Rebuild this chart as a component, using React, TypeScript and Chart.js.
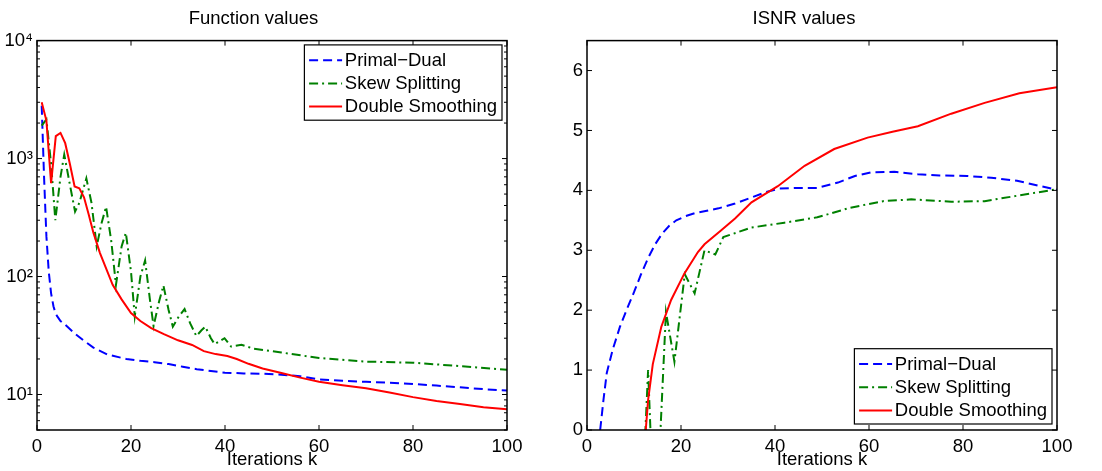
import React, { useEffect, useRef } from 'react';
import { Chart, registerables } from 'chart.js';
Chart.register(...registerables);

const FONT = '"Liberation Sans", Arial, Helvetica, sans-serif';
const FS = 18.5;

// ---------- Left panel: Function values (log scale) ----------
const pdIterF = [1, 1.5, 2, 2.5, 3, 3.5, 4, 5, 6, 8, 10, 12, 15, 19, 22, 25, 28, 31, 34, 37, 40, 44, 48, 52, 56, 60, 65, 70, 75, 80, 85, 90, 95, 100];
const pdValF = [2800, 700, 220, 110, 72, 56, 48, 42, 39, 33, 28.5, 25, 21.8, 20, 19.3, 18.8, 18.1, 17.2, 16.4, 15.8, 15.3, 15.1, 15.0, 14.7, 14.3, 13.4, 13.1, 12.8, 12.6, 12.3, 11.9, 11.5, 11.1, 10.8];

const ssIterF = [1, 2, 3, 3.9, 5, 5.8, 7, 8.1, 9, 10.5, 11.6, 12.7, 13.7, 14.7, 15.8, 16.8, 18, 18.9, 20, 20.8, 22, 23, 24, 24.8, 26, 26.9, 28, 28.9, 30.2, 31.4, 32.6, 33.9, 35, 35.8, 37, 37.8, 39.9, 41.3, 43.5, 46, 52, 60, 70, 80, 90, 100];
const ssValF = [1900, 2150, 900, 300, 700, 1080, 600, 355, 420, 680, 420, 180, 280, 390, 200, 85, 180, 235, 110, 46, 100, 137, 65, 38, 62, 84, 52, 37.6, 46, 53, 40, 31.3, 35, 37.6, 30, 26.7, 30, 25.5, 26.4, 24.5, 22.7, 20.4, 19, 18.6, 17.4, 16.2];

const dsIterF = [1, 2, 3, 4, 5, 6, 7, 8, 9, 10, 11, 12, 13.4, 16.1, 18, 20, 22, 24.3, 27, 30, 33, 35.5, 38, 40.5, 42.5, 45, 48, 52, 56, 60, 65, 70, 75, 80, 85, 90, 95, 100];
const dsValF = [3000, 2100, 620, 1550, 1650, 1350, 900, 580, 560, 470, 335, 235, 158, 85, 64, 49, 42, 36.5, 32.5, 28.8, 26.3, 23.3, 22, 21.2, 20, 18.2, 16.6, 15.2, 13.9, 12.8, 12.0, 11.3, 10.4, 9.5, 8.8, 8.3, 7.8, 7.5];

const fMin = 5;
const fMax = 10000;
const fTickValues = [10, 100, 1000, 10000];
const fTickLabels = ['10¹', '10²', '10³', '10⁴'];

// ---------- Right panel: ISNR values ----------
const pdIterI = [2.8, 3.5, 4.2, 5.5, 7, 8.5, 10, 11.5, 13, 14.5, 16, 17.5, 19, 21, 23, 25.5, 28, 31.5, 35, 38, 41, 45, 49, 53.4, 57, 60.4, 65.4, 70.4, 75, 80.9, 86, 91.5, 96, 100];
const pdValI = [0, 0.5, 0.95, 1.35, 1.72, 2.02, 2.3, 2.6, 2.87, 3.1, 3.28, 3.41, 3.5, 3.57, 3.62, 3.66, 3.7, 3.78, 3.88, 3.97, 4.03, 4.04, 4.04, 4.13, 4.24, 4.3, 4.31, 4.27, 4.25, 4.24, 4.21, 4.16, 4.08, 4.01];

const ssIterI = [12.2, 13, 13.7, 15.4, 16.8, 18.6, 20.8, 22.9, 25, 27.3, 29, 32, 35, 42, 49, 56, 63, 69, 77.5, 84.6, 91.5, 100];
const ssValI = [-0.4, 1.0, -0.4, -0.4, 1.97, 1.14, 2.6, 2.28, 3.0, 2.93, 3.22, 3.3, 3.38, 3.46, 3.55, 3.71, 3.82, 3.85, 3.81, 3.82, 3.91, 4.02];

const dsIterI = [12.5, 13, 14, 15.8, 17.9, 20.7, 23.6, 25, 28.5, 31.5, 35, 40.6, 46.3, 52.6, 59.7, 65, 70.4, 77.5, 84.6, 92, 100];
const dsValI = [0, 0.5, 1.1, 1.72, 2.17, 2.61, 2.97, 3.1, 3.33, 3.53, 3.8, 4.07, 4.41, 4.69, 4.88, 4.98, 5.07, 5.28, 5.46, 5.62, 5.72];

const isnrMin = 0;
const isnrMax = 6.5;
const isnrTickValues = [0, 1, 2, 3, 4, 5, 6];

// ---------- shared ----------
const xTickValues = [0, 20, 40, 60, 80, 100];
const seriesNames = ['Primal\u2212Dual', 'Skew Splitting', 'Double Smoothing'];

const seriesStyle = [
  { color: '#0000ff', dash: [9, 5], order: 3 },
  { color: '#008000', dash: [9, 4, 2, 4], order: 2 },
  { color: '#ff0000', dash: [], order: 1 },
];

function pts(xs: number[], ys: number[]) {
  return xs.map((x, i) => ({ x, y: ys[i] }));
}

function makeDatasets(series: { xs: number[]; ys: number[] }[]) {
  return series.map((s, i) => ({
    label: seriesNames[i],
    data: pts(s.xs, s.ys),
    borderColor: seriesStyle[i].color,
    backgroundColor: seriesStyle[i].color,
    borderDash: seriesStyle[i].dash,
    borderWidth: 2,
    pointRadius: 0,
    tension: 0,
    fill: false,
    clip: 0,
    order: seriesStyle[i].order,
  }));
}

const frameTicks = {
  id: 'frameTicks',
  afterDatasetsDraw(chart: any) {
    const { ctx, chartArea: a, scales } = chart;
    const xs = scales.x;
    const ys = scales.y;
    ctx.save();
    ctx.setLineDash([]);
    ctx.strokeStyle = '#000';
    ctx.lineWidth = 1;
    ctx.beginPath();
    xs.ticks.forEach((t: any) => {
      const px = xs.getPixelForValue(t.value);
      ctx.moveTo(px, a.bottom);
      ctx.lineTo(px, a.bottom - 5);
      ctx.moveTo(px, a.top);
      ctx.lineTo(px, a.top + 5);
    });
    ys.ticks.forEach((t: any) => {
      const py = ys.getPixelForValue(t.value);
      const len = t.label ? 5 : 3;
      ctx.moveTo(a.left, py);
      ctx.lineTo(a.left + len, py);
      ctx.moveTo(a.right, py);
      ctx.lineTo(a.right - len, py);
    });
    ctx.stroke();
    ctx.lineWidth = 1.5;
    ctx.strokeRect(a.left, a.top, a.right - a.left, a.bottom - a.top);
    ctx.restore();
  },
};

const boxLegend = {
  id: 'boxLegend',
  afterDraw(chart: any, _args: any, opts: any) {
    const { ctx, chartArea: a } = chart;
    const ds = chart.data.datasets;
    ctx.save();
    ctx.font = `${FS}px ${FONT}`;
    const textW = Math.max(...ds.map((d: any) => ctx.measureText(d.label).width));
    const lineLen = 33;
    const rowH = 23.2;
    const w = 4.7 + lineLen + 2.7 + textW + 5;
    const h = 75.3;
    const x1 = a.right - 5 - w;
    const y1 = opts.corner === 'top' ? a.top + 4.3 : a.bottom - 6 - h;
    ctx.fillStyle = '#fff';
    ctx.fillRect(x1, y1, w, h);
    ctx.setLineDash([]);
    ctx.strokeStyle = '#000';
    ctx.lineWidth = 1.2;
    ctx.strokeRect(x1, y1, w, h);
    ds.forEach((d: any, i: number) => {
      const cy = y1 + 15.3 + rowH * i;
      ctx.beginPath();
      ctx.setLineDash(d.borderDash || []);
      ctx.strokeStyle = d.borderColor;
      ctx.lineWidth = d.borderWidth;
      ctx.moveTo(x1 + 4.7, cy);
      ctx.lineTo(x1 + 4.7 + lineLen, cy);
      ctx.stroke();
      ctx.setLineDash([]);
      ctx.fillStyle = '#000';
      ctx.textBaseline = 'middle';
      ctx.textAlign = 'left';
      ctx.fillText(d.label, x1 + 4.7 + lineLen + 2.7, cy + 0.5);
    });
    ctx.restore();
  },
};

const font = { family: FONT, size: FS, weight: 'normal' as const };

function xScale() {
  return {
    type: 'linear',
    min: 0,
    max: 100,
    afterBuildTicks: (s: any) => {
      s.ticks = xTickValues.map((v) => ({ value: v }));
    },
    afterFit: (s: any) => {
      s.height = 41;
    },
    ticks: { autoSkip: false, maxRotation: 0, padding: 6, color: '#000', font, callback: (v: any) => String(v) },
    grid: { display: false, drawTicks: false },
    border: { display: false },
    title: { display: true, text: 'Iterations k', color: '#000', font, padding: { top: 0, bottom: 0 } },
  };
}

function baseOptions(title: string, corner: string, padRight: number, yScale: any) {
  return {
    animation: false,
    responsive: false,
    devicePixelRatio: 1,
    events: [],
    layout: { padding: { left: 0, right: padRight, top: 0, bottom: 0 } },
    plugins: {
      legend: { display: false },
      tooltip: { enabled: false },
      title: { display: true, text: title, color: '#000', font, padding: { top: 8, bottom: 10.4 } },
      boxLegend: { corner },
    },
    scales: { x: xScale(), y: yScale },
  };
}

function PanelChart({ config }: { config: any }) {
  const ref = useRef<HTMLCanvasElement | null>(null);
  useEffect(() => {
    if (!ref.current) return;
    const chart = new Chart(ref.current, config);
    return () => chart.destroy();
  }, [config]);
  return <canvas ref={ref} width={551} height={471} style={{ display: 'block', width: 551, height: 471 }} />;
}

const leftConfig = {
  type: 'line',
  data: {
    datasets: makeDatasets([
      { xs: pdIterF, ys: pdValF },
      { xs: ssIterF, ys: ssValF },
      { xs: dsIterF, ys: dsValF },
    ]),
  },
  options: baseOptions('Function values', 'top', 44, {
    type: 'logarithmic',
    min: fMin,
    max: fMax,
    afterBuildTicks: (s: any) => {
      const t: any[] = [];
      for (let e = 0; e <= 4; e++) {
        for (let m = 1; m <= 9; m++) {
          const v = m * Math.pow(10, e);
          if (v >= fMin && v <= fMax) t.push({ value: v });
        }
      }
      s.ticks = t;
    },
    afterFit: (s: any) => {
      s.width = 37;
    },
    ticks: {
      autoSkip: false,
      padding: 4,
      color: '#000',
      font,
      callback: (v: any) => {
        const i = fTickValues.findIndex((tv) => Math.abs(tv - v) < 1e-6 * tv);
        return i >= 0 ? fTickLabels[i] : '';
      },
    },
    grid: { display: false, drawTicks: false },
    border: { display: false },
  }),
  plugins: [frameTicks, boxLegend],
};

const rightConfig = {
  type: 'line',
  data: {
    datasets: makeDatasets([
      { xs: pdIterI, ys: pdValI },
      { xs: ssIterI, ys: ssValI },
      { xs: dsIterI, ys: dsValI },
    ]),
  },
  options: baseOptions('ISNR values', 'bottom', 45, {
    type: 'linear',
    min: isnrMin,
    max: isnrMax,
    afterBuildTicks: (s: any) => {
      s.ticks = isnrTickValues.map((v) => ({ value: v }));
    },
    afterFit: (s: any) => {
      s.width = 36;
    },
    ticks: { autoSkip: false, padding: 4, color: '#000', font, callback: (v: any) => String(v) },
    grid: { display: false, drawTicks: false },
    border: { display: false },
  }),
  plugins: [frameTicks, boxLegend],
};

export default function App() {
  return (
    <div style={{ position: 'absolute', left: 0, top: 0, width: 1102, height: 471, background: '#fff', display: 'flex' }}>
      <PanelChart config={leftConfig} />
      <PanelChart config={rightConfig} />
    </div>
  );
}
